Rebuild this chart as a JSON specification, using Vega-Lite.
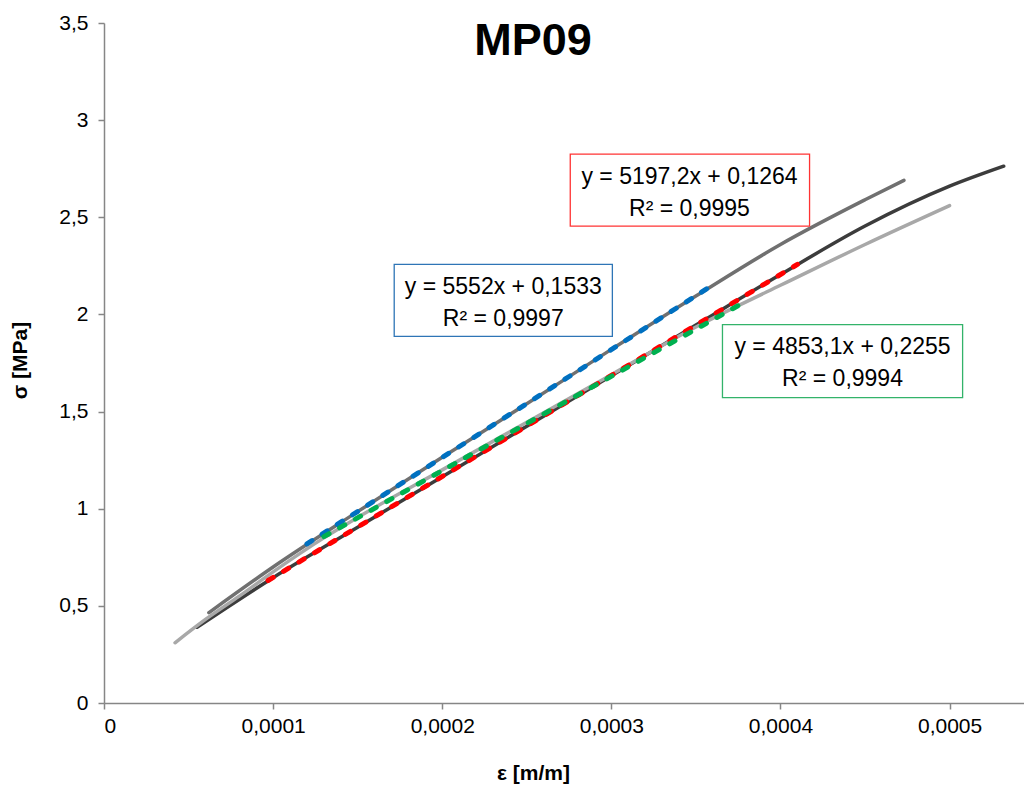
{
  "$schema": "https://vega.github.io/schema/vega-lite/v6.json",
  "width": 920,
  "height": 680,
  "autosize": {"type": "none"},
  "padding": {"left": 104, "top": 23, "right": 0, "bottom": 89},
  "background": "white",
  "title": {"text": "MP09", "anchor": "middle", "font": "Liberation Sans", "fontSize": 45, "fontWeight": "bold", "color": "#000000", "baseline": "alphabetic", "dx": -31, "dy": 92},
  "config": {
    "view": {"stroke": null},
    "axis": {"grid": false, "labelFont": "Liberation Sans", "labelFontSize": 21, "labelColor": "#000000", "domainColor": "#868686", "tickColor": "#868686", "domainWidth": 1.5, "tickWidth": 1.5, "tickSize": 6, "titleFont": "Liberation Sans", "titleFontSize": 21, "titleFontWeight": "bold", "titleColor": "#000000"}
  },
  "resolve": {"scale": {"color": "independent", "stroke": "independent"}},
  "datasets": {
    "curves": [
      {"series": "A", "strain": 0.000062, "stress": 0.465},
      {"series": "A", "strain": 0.0001, "stress": 0.70},
      {"series": "A", "strain": 0.00015, "stress": 0.985},
      {"series": "A", "strain": 0.0002, "stress": 1.265},
      {"series": "A", "strain": 0.00025, "stress": 1.54},
      {"series": "A", "strain": 0.0003, "stress": 1.82},
      {"series": "A", "strain": 0.00035, "stress": 2.095},
      {"series": "A", "strain": 0.0004, "stress": 2.36},
      {"series": "A", "strain": 0.00045, "stress": 2.59},
      {"series": "A", "strain": 0.000473, "stress": 2.69},
      {"series": "B", "strain": 0.000055, "stress": 0.39},
      {"series": "B", "strain": 0.0001, "stress": 0.645},
      {"series": "B", "strain": 0.00015, "stress": 0.905},
      {"series": "B", "strain": 0.0002, "stress": 1.165},
      {"series": "B", "strain": 0.00025, "stress": 1.425},
      {"series": "B", "strain": 0.0003, "stress": 1.685},
      {"series": "B", "strain": 0.00035, "stress": 1.945},
      {"series": "B", "strain": 0.0004, "stress": 2.205},
      {"series": "B", "strain": 0.00045, "stress": 2.455},
      {"series": "B", "strain": 0.0005, "stress": 2.66},
      {"series": "B", "strain": 0.000532, "stress": 2.763},
      {"series": "C", "strain": 0.000042, "stress": 0.31},
      {"series": "C", "strain": 0.00006, "stress": 0.43},
      {"series": "C", "strain": 0.00008, "stress": 0.55},
      {"series": "C", "strain": 0.0001, "stress": 0.675},
      {"series": "C", "strain": 0.00013, "stress": 0.85},
      {"series": "C", "strain": 0.00015, "stress": 0.955},
      {"series": "C", "strain": 0.0002, "stress": 1.2},
      {"series": "C", "strain": 0.00025, "stress": 1.445},
      {"series": "C", "strain": 0.0003, "stress": 1.69},
      {"series": "C", "strain": 0.00035, "stress": 1.935},
      {"series": "C", "strain": 0.000375, "stress": 2.045},
      {"series": "C", "strain": 0.0004, "stress": 2.15},
      {"series": "C", "strain": 0.00045, "stress": 2.36},
      {"series": "C", "strain": 0.0005, "stress": 2.56}
    ],
    "fits": [
      {"fit": "blue", "strain": 0.00012, "stress": 0.8195},
      {"fit": "blue", "strain": 0.00036, "stress": 2.152},
      {"fit": "red", "strain": 0.000097, "stress": 0.6305},
      {"fit": "red", "strain": 0.00041, "stress": 2.2573},
      {"fit": "green", "strain": 0.00013, "stress": 0.8564},
      {"fit": "green", "strain": 0.000375, "stress": 2.0454}
    ],
    "boxes": [
      {"fit": "red", "x1": 0.0002757, "x2": 0.0004172, "y1": 2.825, "y2": 2.454},
      {"fit": "blue", "x1": 0.0001716, "x2": 0.0003006, "y1": 2.258, "y2": 1.887},
      {"fit": "green", "x1": 0.0003657, "x2": 0.0005077, "y1": 1.948, "y2": 1.572}
    ],
    "labels": [
      {"fit": "red", "cx": 0.0003462, "cy": 2.6737, "label": "y = 5197,2x + 0,1264"},
      {"fit": "red", "cx": 0.0003462, "cy": 2.5067, "label": "R² = 0,9995"},
      {"fit": "blue", "cx": 0.0002361, "cy": 2.1067, "label": "y = 5552x + 0,1533"},
      {"fit": "blue", "cx": 0.0002361, "cy": 1.9397, "label": "R² = 0,9997"},
      {"fit": "green", "cx": 0.0004367, "cy": 1.7954, "label": "y = 4853,1x + 0,2255"},
      {"fit": "green", "cx": 0.0004367, "cy": 1.6325, "label": "R² = 0,9994"}
    ]
  },
  "layer": [
    {
      "data": {"name": "curves"},
      "mark": {"type": "line", "strokeWidth": 3.5, "strokeCap": "round", "interpolate": "monotone"},
      "encoding": {
        "x": {"field": "strain", "type": "quantitative", "scale": {"domain": [0, 0.000544], "nice": false, "zero": false},
              "axis": {"values": [0, 0.0001, 0.0002, 0.0003, 0.0004, 0.0005], "labelExpr": "replace(format(datum.value, '.4~f'), '.', ',')", "labelPadding": 6, "title": "ε [m/m]", "titleX": 429, "titleY": 76, "titleBaseline": "alphabetic"}},
        "y": {"field": "stress", "type": "quantitative", "scale": {"domain": [0, 3.5], "nice": false},
              "axis": {"values": [0, 0.5, 1, 1.5, 2, 2.5, 3, 3.5], "labelExpr": "replace(format(datum.value, '.1~f'), '.', ',')", "labelPadding": 10, "title": "σ [MPa]", "titleX": -78, "titleY": 337, "titleAngle": -90, "titleBaseline": "alphabetic"}},
        "color": {"field": "series", "type": "nominal", "legend": null, "scale": {"domain": ["A", "B", "C"], "range": ["#707070", "#3c3c3c", "#a8a8a8"]}}
      }
    },
    {
      "data": {"name": "fits"},
      "mark": {"type": "line", "strokeWidth": 5, "strokeCap": "round", "strokeDash": [6, 12]},
      "encoding": {
        "x": {"field": "strain", "type": "quantitative"},
        "y": {"field": "stress", "type": "quantitative"},
        "color": {"field": "fit", "type": "nominal", "legend": null, "scale": {"domain": ["blue", "red", "green"], "range": ["#0070c0", "#ff0000", "#00b050"]}}
      }
    },
    {
      "data": {"name": "boxes"},
      "mark": {"type": "rect", "fill": "white", "strokeWidth": 1.3},
      "encoding": {
        "x": {"field": "x1", "type": "quantitative"},
        "x2": {"field": "x2"},
        "y": {"field": "y1", "type": "quantitative"},
        "y2": {"field": "y2"},
        "stroke": {"field": "fit", "type": "nominal", "legend": null, "scale": {"domain": ["blue", "red", "green"], "range": ["#2e75b6", "#ff3333", "#33b36a"]}}
      }
    },
    {
      "data": {"name": "labels"},
      "mark": {"type": "text", "font": "Liberation Sans", "fontSize": 23, "color": "#000000", "align": "center", "baseline": "alphabetic"},
      "encoding": {
        "x": {"field": "cx", "type": "quantitative"},
        "y": {"field": "cy", "type": "quantitative"},
        "text": {"field": "label"}
      }
    }
  ]
}
